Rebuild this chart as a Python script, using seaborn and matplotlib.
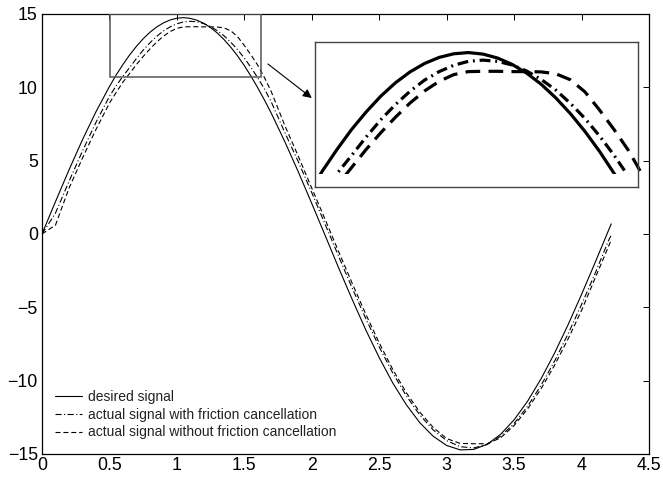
import matplotlib
matplotlib.use("Agg")
import matplotlib.pyplot as plt
import seaborn as sns
from matplotlib.patches import Rectangle

# ---------------- data ----------------
t = [0.0, 0.1, 0.2, 0.3, 0.4, 0.5, 0.55, 0.6, 0.65, 0.7, 0.75, 0.8, 0.85, 0.9,
     0.95, 1.0, 1.05, 1.1, 1.15, 1.2, 1.25, 1.3, 1.35, 1.4, 1.45, 1.5, 1.55,
     1.6, 1.65, 1.7, 1.8, 1.9, 2.0, 2.1, 2.2, 2.3, 2.4, 2.5, 2.6, 2.7, 2.8,
     2.9, 3.0, 3.1, 3.2, 3.3, 3.4, 3.5, 3.6, 3.7, 3.8, 3.9, 4.0, 4.1, 4.2, 4.22]

desired = [0.00, 2.20, 4.36, 6.42, 8.33, 10.05, 10.84, 11.55, 12.21, 12.79,
           13.31, 13.75, 14.11, 14.39, 14.59, 14.71, 14.75, 14.70, 14.57, 14.36,
           14.07, 13.70, 13.25, 12.73, 12.14, 11.48, 10.75, 9.96, 9.12, 8.23,
           6.30, 4.24, 2.08, -0.12, -2.33, -4.47, -6.53, -8.43, -10.15, -11.63,
           -12.86, -13.79, -14.42, -14.72, -14.69, -14.34, -13.66, -12.67,
           -11.40, -9.87, -8.12, -6.19, -4.12, -1.96, 0.25, 0.69]

with_fc = [0.00, 1.42, 3.58, 5.65, 7.60, 9.38, 10.10, 10.75, 11.35, 11.96,
           12.53, 13.03, 13.47, 13.84, 14.12, 14.33, 14.46, 14.50, 14.46, 14.34,
           14.14, 13.86, 13.51, 13.07, 12.57, 11.99, 11.35, 10.64, 9.88, 9.00,
           6.92, 4.93, 2.82, 0.64, -1.54, -3.70, -5.76, -7.70, -9.47, -11.02,
           -12.33, -13.36, -14.09, -14.50, -14.59, -14.35, -13.79, -12.92,
           -11.75, -10.31, -8.67, -6.81, -4.81, -2.70, -0.45, -0.08]

without_fc = [0.00, 0.60, 3.11, 5.17, 7.12, 8.92, 9.65, 10.35, 10.95, 11.55,
              12.10, 12.61, 13.08, 13.48, 13.80, 14.02, 14.12, 14.13, 14.13,
              14.12, 14.12, 14.11, 14.05, 13.85, 13.45, 12.85, 12.20, 11.50,
              10.65, 9.70, 7.40, 5.30, 3.13, 0.97, -1.22, -3.37, -5.46, -7.43,
              -9.23, -10.81, -12.14, -13.19, -13.95, -14.28, -14.30, -14.30,
              -13.90, -13.06, -11.93, -10.55, -8.95, -7.16, -5.21, -3.02,
              -0.85, -0.40]

labels = ["desired signal",
          "actual signal with friction cancellation",
          "actual signal without friction cancellation"]

x_ticks = [0, 0.5, 1, 1.5, 2, 2.5, 3, 3.5, 4, 4.5]
x_tick_labels = ["0", "0.5", "1", "1.5", "2", "2.5", "3", "3.5", "4", "4.5"]
y_ticks = [-15, -10, -5, 0, 5, 10, 15]
y_tick_labels = ["\u221215", "\u221210", "\u22125", "0", "5", "10", "15"]

# ---------------- style ----------------
sns.set_theme(style="white", rc={
    "axes.edgecolor": "black",
    "text.color": "black",
    "xtick.color": "black",
    "ytick.color": "black",
    "axes.linewidth": 0.9,
})
plt.rcParams["font.family"] = ["Liberation Sans", "DejaVu Sans"]

fig = plt.figure(figsize=(6.63, 4.8), dpi=100)
ax = fig.add_axes([0.0633, 0.0542, 0.9156, 0.9167])

series = [desired, with_fc, without_fc]
main_styles = ["-", (0, (5.5, 2.2, 1.0, 2.2)), (0, (4.5, 2.6))]
for ys, lab, ls in zip(series, labels, main_styles):
    sns.lineplot(x=t, y=ys, ax=ax, color="black", linewidth=0.8,
                 linestyle=ls, label=lab, sort=False, estimator=None)

ax.set_xlim(0, 4.5)
ax.set_ylim(-15, 15)
ax.set_xticks(x_ticks)
ax.set_xticklabels(x_tick_labels)
ax.set_yticks(y_ticks)
ax.set_yticklabels(y_tick_labels)
ax.tick_params(direction="in", length=4, width=0.7, top=True, right=True,
               labelsize=12.8, pad=3, colors="black")
ax.tick_params(axis="x", pad=2)
for s in ax.spines.values():
    s.set_color("black")
    s.set_linewidth(0.9)

# zoom rectangle
ax.add_patch(Rectangle((0.5025, 10.73), 1.1235, 4.27, fill=False,
                       edgecolor="#555555", linewidth=1.1, zorder=3))
# arrow
ax.annotate("", xy=(2.0, 9.27), xytext=(1.675, 11.59),
            arrowprops=dict(arrowstyle="-|>", color="black", lw=0.8,
                            mutation_scale=13, shrinkA=0, shrinkB=0))

leg = ax.legend(loc="lower left", bbox_to_anchor=(0.021, 0.033),
                frameon=False, fontsize=10, handlelength=2.0,
                handletextpad=0.4, labelspacing=0.28, borderpad=0,
                borderaxespad=0)
for txt in leg.get_texts():
    txt.set_color("#222222")

# ---------------- inset ----------------
ins = fig.add_axes([0.4751, 0.6104, 0.4872, 0.3021])
ins_styles = ["-", (0, (3.4, 1.5, 0.6, 1.5)), (0, (4.6, 2.6))]
for ys, ls in zip(series, ins_styles):
    sns.lineplot(x=t, y=ys, ax=ins, color="black", linewidth=2.3,
                 linestyle=ls, sort=False, estimator=None, legend=False)
ins.set_xlim(0.524, 1.632)
ins.set_ylim(10.30, 15.10)
ins.set_xticks([])
ins.set_yticks([])
ins.set_xlabel("")
ins.set_ylabel("")
for s in ins.spines.values():
    s.set_color("#444444")
    s.set_linewidth(1.0)
clip = Rectangle((0.0, 10.73), 5.0, 10.0, transform=ins.transData)
for ln in ins.lines:
    ln.set_clip_path(clip)

fig.savefig("out.png", dpi=100)
